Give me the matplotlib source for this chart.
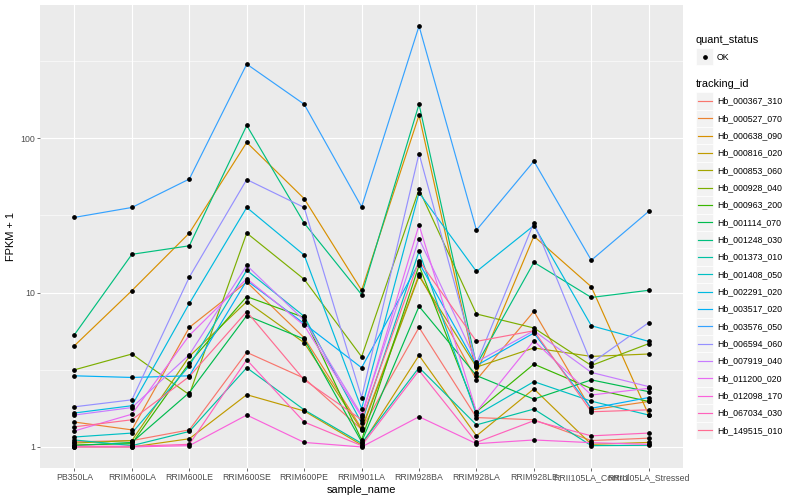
import numpy as np
import matplotlib
matplotlib.use("Agg")
import matplotlib.pyplot as plt
from matplotlib.lines import Line2D
from matplotlib.patches import Rectangle

plt.rcParams['font.family'] = ['Liberation Sans', 'DejaVu Sans']

samples = ["PB350LA", "RRIM600LA", "RRIM600LE", "RRIM600SE", "RRIM600PE",
           "RRIM901LA", "RRIM928BA", "RRIM928LA", "RRIM928LE",
           "RRII105LA_Control", "RRII105LA_Stressed"]

tracking_ids = ["Hb_000367_310", "Hb_000527_070", "Hb_000638_090", "Hb_000816_020",
                "Hb_000853_060", "Hb_000928_040", "Hb_000963_200", "Hb_001114_070",
                "Hb_001248_030", "Hb_001373_010", "Hb_001408_050", "Hb_002291_020",
                "Hb_003517_020", "Hb_003576_050", "Hb_006594_060", "Hb_007919_040",
                "Hb_011200_020", "Hb_012098_170", "Hb_067034_030", "Hb_149515_010"]

# FPKM + 1, one row per tracking_id, columns follow samples
fpkm = [
    [1.08, 1.10, 1.29, 4.10, 2.79, 1.30, 5.95, 1.55, 1.50, 1.10, 1.14],
    [1.45, 1.29, 5.95, 11.7, 5.10, 1.32, 13.1, 2.72, 7.56, 1.74, 1.97],
    [4.53, 10.3, 24.3, 94.0, 40.6, 10.35, 141, 3.01, 23.2, 10.9, 1.61],
    [1.00, 1.00, 1.13, 2.18, 1.71, 1.03, 3.92, 1.18, 2.38, 1.04, 1.07],
    [1.06, 1.10, 3.86, 8.74, 4.73, 1.29, 12.8, 3.29, 4.38, 3.86, 4.00],
    [3.16, 4.00, 2.18, 24.3, 12.2, 3.84, 46.6, 7.27, 5.90, 3.37, 4.67],
    [1.03, 1.05, 3.50, 9.42, 6.90, 1.11, 15.0, 1.69, 3.44, 2.39, 1.97],
    [1.02, 1.07, 2.25, 7.09, 5.00, 1.08, 8.15, 2.90, 2.04, 2.72, 2.28],
    [5.34, 17.7, 20.1, 121, 28.2, 9.70, 166, 3.40, 15.7, 9.30, 10.35],
    [1.11, 1.02, 1.26, 3.26, 1.74, 1.056, 3.27, 1.39, 1.76, 1.02, 1.025],
    [1.16, 1.23, 3.36, 13.95, 7.02, 1.43, 18.5, 1.61, 2.65, 1.98, 1.61],
    [1.66, 1.85, 8.50, 35.6, 17.5, 1.77, 44.4, 13.7, 27.2, 6.10, 4.83],
    [2.89, 2.82, 2.89, 11.97, 6.29, 3.26, 15.6, 3.37, 5.47, 1.78, 2.09],
    [30.7, 35.6, 54.4, 302, 166, 35.9, 533, 25.4, 71.0, 16.2, 33.6],
    [1.82, 2.02, 12.6, 54.0, 35.6, 2.09, 79.6, 3.46, 28.4, 3.49, 6.39],
    [1.61, 1.80, 3.96, 15.0, 6.61, 1.61, 22.4, 3.55, 5.66, 3.04, 2.46],
    [1.27, 1.63, 5.28, 12.3, 6.13, 1.57, 27.4, 1.69, 4.88, 2.17, 2.40],
    [1.00, 1.00, 1.02, 1.61, 1.07, 1.00, 1.57, 1.05, 1.11, 1.066, 1.04],
    [1.01, 1.01, 1.04, 3.67, 1.45, 1.02, 3.13, 1.07, 1.48, 1.18, 1.23],
    [1.35, 1.50, 2.86, 7.53, 2.72, 1.50, 16.1, 4.83, 5.66, 1.69, 1.74],
]

colors = ["#F8766D", "#EA8331", "#D89000", "#C09B00", "#A3A500", "#7CAE00",
          "#39B600", "#00BB4E", "#00BF7D", "#00C1A3", "#00BFC4", "#00BAE0",
          "#00B0F6", "#35A2FF", "#9590FF", "#C77CFF", "#E76BF3", "#FA62DB",
          "#FF62BC", "#FF6C91"]

fig = plt.figure(figsize=(8, 5), dpi=100)
ax = fig.add_axes([0.05, 0.064, 0.804, 0.926])
ax.set_facecolor("#EBEBEB")

x = np.arange(len(samples))
for vals, c in zip(fpkm, colors):
    ax.plot(x, vals, color=c, lw=0.85, zorder=2)
for vals in fpkm:
    ax.plot(x, vals, ls="none", marker="o", ms=2.4, color="black", zorder=3)

ax.set_yscale("log")
lo = np.log10(np.min(fpkm))
hi = np.log10(np.max(fpkm))
pad = (hi - lo) * 0.05
ax.set_ylim(10 ** (lo - pad), 10 ** (hi + pad))
ax.set_xlim(-0.6, len(samples) - 0.4)

ax.set_yticks([1, 10, 100])
ax.set_yticklabels(["1", "10", "100"])
ax.set_yticks([10 ** 0.5, 10 ** 1.5, 10 ** 2.5], minor=True)
ax.set_xticks(x)
ax.set_xticklabels(samples)
ax.yaxis.set_minor_formatter(matplotlib.ticker.NullFormatter())

ax.grid(True, which="major", color="white", lw=0.8)
ax.grid(True, which="minor", axis="y", color="white", lw=0.4)
ax.set_axisbelow(True)
for s in ax.spines.values():
    s.set_visible(False)
ax.tick_params(which="major", length=2, width=0.5, color="#333333",
               labelsize=6.3, labelcolor="#4D4D4D", pad=1.6)
ax.tick_params(which="minor", length=0)

ax.set_xlabel("sample_name", fontsize=7.9, labelpad=2)
ax.set_ylabel("FPKM + 1", fontsize=7.9, labelpad=3)

# legend, drawn in figure pixel coordinates
W, H = 800, 500
def fx(px):
    return px / W
def fy(py):
    return 1 - py / H

fig.text(fx(696), fy(40), "quant_status", fontsize=7.9, va="center", ha="left")
fig.patches.append(Rectangle((fx(696), fy(65)), 17 / W, 17 / H, transform=fig.transFigure,
                             facecolor="#F2F2F2", edgecolor="white", lw=0.5))
fig.lines.append(Line2D([fx(704.5)], [fy(56.5)], transform=fig.transFigure,
                        marker="o", ms=2.4, color="black", ls="none"))
fig.text(fx(717), fy(57), "OK", fontsize=6.3, va="center", ha="left")

fig.text(fx(696), fy(84), "tracking_id", fontsize=7.9, va="center", ha="left")
step = 17.33
for i, (name, c) in enumerate(zip(tracking_ids, colors)):
    cy = 101 + i * step
    fig.patches.append(Rectangle((fx(696), fy(cy + 8.6)), 17 / W, step / H,
                                 transform=fig.transFigure, facecolor="#F2F2F2",
                                 edgecolor="white", lw=0.5))
    fig.lines.append(Line2D([fx(697.5), fx(711.5)], [fy(cy), fy(cy)],
                            transform=fig.transFigure, color=c, lw=0.85))
    fig.text(fx(717), fy(cy), name, fontsize=6.3, va="center", ha="left")

fig.savefig("out.png", dpi=100)
